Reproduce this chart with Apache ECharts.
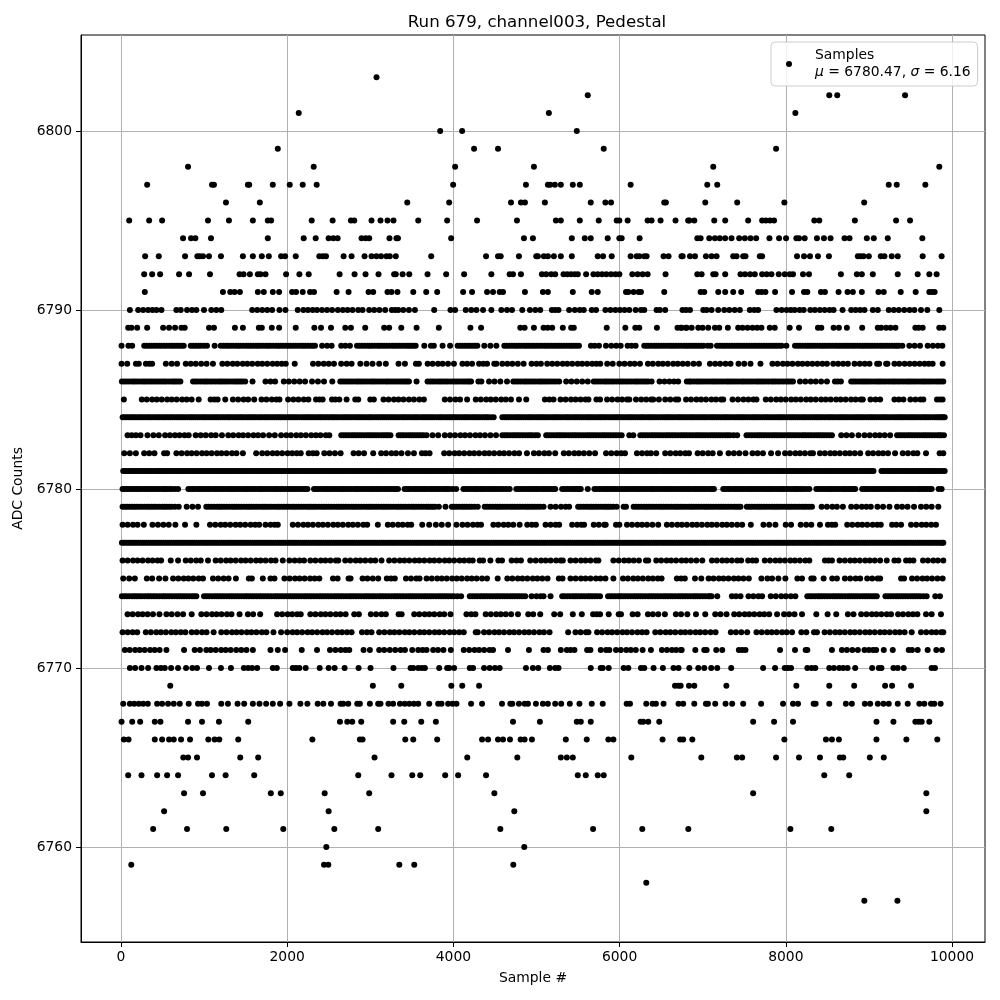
<!DOCTYPE html>
<html><head><meta charset="utf-8">
<style>html,body{margin:0;padding:0;background:#fff}#c{width:1000px;height:1000px}</style>
<script src="https://cdn.jsdelivr.net/npm/echarts@6/dist/echarts.min.js"></script>
</head><body><div id="c"></div>
<script>
const titleText="Run 679, channel003, Pedestal";
const xName="Sample #";
const yName="ADC Counts";
const xTicks=[0,2000,4000,6000,8000,10000];
const yTicks=[6760,6770,6780,6790,6800];
const a6803=[3075];
const a6802=[5617,8523,8619,9435];
const a6801=[2139,5149,8115];
const a6800=[3841,4105,5485];
const a6799=[1887,4249,4537,5809,7883];
const a6798=[807,2319,4021,4969,7127,9847];
const a6797=[315,1095,1119,1527,1543,1827,2031,2187,2355,3997,4873,5137,5165,5221,5293,5437,5521,6133,7055,7175,9239,9335,9679];
const a6796=[1263,1671,3445,3949,4693,4813,4861,5101,5653,5829,5897,6537,6557,7031,7415,7983,8943];
const a6795=[99,339,495,1047,1299,1587,1767,1807,2295,2547,2767,2807,3015,3123,3207,3279,3577,3925,4285,4765,5233,5293,5521,5749,5965,5997,6097,6337,6385,6493,6673,6825,6839,6899,7139,7271,7547,7715,7760,7810,7859,8343,8403,8831,9327,9495];
const a6794=[747,843,895,1083,1767,2199,2343,2499,2555,2607,2895,2945,2987,3231,3315,3333,3973,4849,4957,5425,5581,5653,5857,5997,6025,6241,6935,6975,7079,7147,7205,7270,7347,7439,7507,7575,7643,7803,7919,8003,8127,8159,8227,8375,8459,8539,8707,8767,8975,9059,9227,9643];
const a6793=[291,455,771,919,947,987,1059,1203,1467,1587,1695,1779,1927,1975,2103,2387,2430,2467,2679,2775,2931,3015,3075,3130,3195,3235,3307,3733,4393,4537,4569,4789,4997,5017,5089,5137,5209,5293,5425,5737,5801,5905,6133,6205,6237,6297,6325,6529,6589,6745,6759,6847,6907,7039,7107,7167,7367,7407,7487,7515,7687,7715,8135,8219,8291,8387,8519,8867,8900,8935,8999,9143,9187,9275,9347,9647,9875];
const a6792=[279,375,471,699,819,1071,1427,1475,1551,1647,1679,1739,1987,2147,2259,2631,2811,2943,3099,3287,3307,3389,3469,3689,3913,4129,4457,4677,4717,4813,5065,5117,5177,5225,5325,5370,5415,5460,5497,5597,5685,5737,5789,5841,5897,5950,5997,6153,6217,6277,6337,6553,6935,6987,7127,7155,7271,7455,7510,7570,7627,7715,7770,7827,7915,7987,8047,8087,8207,8279,8663,8855,8915,9047,9347,9587,9727,9815];
const a6791=[287,1227,1315,1367,1431,1647,1719,1827,1903,2059,2107,2187,2275,2323,2595,2739,2979,3035,3207,3255,3327,3517,3673,3805,4117,4225,4405,4477,4557,4597,4861,5077,5137,5437,5665,5737,6077,6105,6169,6229,6257,6537,6975,7019,7187,7271,7367,7463,7667,7710,7755,7871,8075,8219,8259,8423,8471,8635,8743,8807,8915,9115,9179,9383,9563,9727,9760,9791];
const a6790=[107,207,267,327,379,427,487,667,719,795,855,907,999,1087,1147,1207,1579,1640,1700,1760,1819,1907,1979,2127,2195,2250,2307,2359,2419,2480,2540,2610,2670,2727,2787,2855,2907,2987,3047,3110,3179,3259,3300,3337,3397,3465,3537,3769,3965,4021,4149,4215,4277,4357,4457,4577,4645,4705,4829,4921,4985,5045,5185,5225,5265,5393,5461,5521,5569,5665,5717,5829,5890,5950,6005,6060,6117,6193,6257,6297,6445,6485,6549,6757,6800,6847,7007,7047,7107,7187,7259,7320,7385,7447,7567,7620,7667,7887,7950,8010,8060,8107,8167,8215,8295,8350,8410,8467,8527,8575,8683,8787,8840,8895,8947,9047,9107,9239,9300,9360,9425,9490,9547,9627,9703,9847];
const a6789=[87,127,195,315,507,579,651,727,767,1059,1119,1371,1467,1659,1695,1815,1903,2103,2327,2407,2527,2699,2767,2939,3167,3227,3373,3557,3825,4205,4333,4805,4857,4969,5085,5135,5189,5317,5417,5449,5845,6069,6189,6237,6449,6697,6737,6797,6747,6807,6867,6947,6999,7067,7147,7199,7303,7427,7480,7540,7600,7655,7707,7807,7867,8047,8159,8387,8427,8575,8639,8735,8919,9107,9147,9207,9260,9319,9559,9600,9647,9847,9895];
const a6788=[7,90,135,280,340,398,462,520,583,640,700,755,840,900,960,1035,1127,1200,1262,1320,1385,1440,1505,1562,1625,1680,1745,1800,1866,1920,1985,2040,2100,2165,2220,2280,2335,2420,2480,2535,2650,2700,2755,2840,2900,2965,3020,3085,3140,3200,3265,3320,3380,3440,3490,3546,3650,3730,3765,3870,3960,4051,4110,4170,4230,4288,4372,4445,4517,4613,4670,4735,4790,4855,4910,4970,5030,5095,5150,5210,5270,5330,5395,5450,5511,5655,5700,5752,5836,5900,5960,6013,6097,6145,6193,6297,6350,6415,6470,6530,6595,6650,6710,6775,6830,6890,6950,7010,7060,7096,7172,7235,7290,7350,7410,7470,7530,7590,7650,7710,7770,7830,7890,7950,8007,8111,8170,8235,8290,8350,8415,8470,8530,8595,8650,8710,8770,8830,8895,8950,9010,9070,9135,9190,9250,9310,9360,9402,9487,9550,9615,9707,9770,9830,9884];
const b6788=[310,368,430,490,550,612,670,728,870,930,998,1230,1290,1352,1412,1472,1533,1593,1652,1712,1772,1833,1893,1952,2012,2070,2132,2192,2250,2308,2870,2932,2992,3052,3112,3170,3232,3292,3350,3410,3465,3518,4080,4140,4200,4258,4640,4702,4762,4822,4882,4940,5000,5062,5122,5180,5240,5300,5362,5422,5480,6325,6382,6442,6500,6562,6622,6680,6742,6802,6860,6920,6980,7205,7262,7320,7380,7440,7500,7560,7620,7680,7740,7800,7860,7920,8140,8202,8262,8320,8382,8442,8500,8562,8622,8680,8740,8800,8862,8922,8980,9040,9102,9162,9220,9280,9335];
const a6787=[7,75,180,215,300,340,375,540,610,675,780,840,900,965,1030,1107,1220,1280,1345,1400,1465,1520,1580,1645,1700,1760,1825,1880,1935,1983,2091,2311,2375,2440,2500,2563,2650,2715,2775,2880,2955,3027,3107,3187,3340,3417,3549,3585,3690,3750,3815,3870,3935,4007,4109,4165,4225,4309,4360,4405,4492,4517,4589,4650,4710,4775,4845,4941,5000,5053,5129,5190,5250,5315,5370,5430,5495,5550,5610,5670,5720,5767,5851,5917,5997,6060,6125,6180,6245,6341,6400,6465,6520,6580,6645,6700,6760,6820,6890,6955,7087,7150,7210,7275,7335,7431,7500,7575,7695,7839,7900,7965,8020,8080,8145,8200,8260,8320,8380,8440,8495,8571,8630,8690,8747,8827,8890,8950,9007,9099,9123,9207,9223,9307,9365,9430,9490,9550,9610,9670,9720,9767,9887];
const a6786=[11,70,135,190,255,310,370,430,490,545,610,660,715,867,925,990,1045,1105,1170,1225,1285,1350,1405,1460,1495,1583,1739,1800,1855,1959,2020,2085,2150,2215,2299,2370,2443,2543,2639,2700,2760,2825,2880,2940,3005,3060,3120,3185,3240,3300,3360,3415,3465,3557,3689,3750,3815,3870,3930,3995,4050,4110,4165,4213,4301,4337,4429,4495,4565,4645,4721,4780,4845,4900,4960,5025,5080,5140,5205,5273,5357,5420,5485,5550,5617,5689,5750,5815,5870,5930,5995,6050,6110,6175,6230,6290,6345,6385,6481,6540,6600,6655,6705,6809,6860,6925,6980,7040,7105,7160,7220,7285,7340,7400,7465,7520,7580,7645,7700,7760,7825,7880,7940,8005,8060,8087,8171,8235,8300,8360,8425,8495,8591,8625,8663,8787,8845,8910,8965,9025,9090,9145,9205,9270,9325,9385,9450,9505,9565,9630,9685,9745,9810,9865,9895];
const b6786=[40,102,162,222,282,340,400,460,518,578,635,688,896,958,1018,1075,1138,1198,1255,1318,1378,1432,2670,2730,2792,2852,2910,2972,3032,3090,3152,3212,3270,3330,3388,3440,3720,3782,3842,3900,3962,4022,4080,4138,4190,4750,4812,4872,4930,4992,5052,5110,5172,5238,5718,5782,5842,5900,5962,6022,6080,6142,6202,6260,6318,6838,6892,6952,7010,7072,7132,7190,7252,7312,7370,7432,7492,7550,7612,7672,7730,7792,7852,7910,7972,8032,8816,8878,8938,8995,9058,9118,9175,9238,9298,9355,9418,9478,9535,9598,9658,9715,9778,9838];
const a6785=[35,251,310,375,430,490,555,610,670,735,790,850,935,1079,1125,1163,1255,1347,1410,1475,1530,1603,1691,1750,1815,1870,1907,2011,2075,2135,2200,2255,2347,2390,2427,2539,2580,2627,2715,2819,2855,3000,3043,3159,3220,3285,3340,3400,3465,3525,3590,3645,3897,3960,4025,4080,4165,4269,4330,4395,4450,4510,4575,4630,4693,4789,4877,5101,5155,5205,5289,5350,5415,5470,5530,5590,5625,5721,5765,5849,5910,5975,6030,6090,6117,6197,6260,6320,6380,6405,6473,6549,6610,6675,6705,6800,6860,6925,6980,7040,7105,7160,7220,7247,7359,7425,7490,7550,7610,7647,7759,7820,7885,7940,8000,8065,8120,8180,8245,8300,8360,8425,8480,8540,8605,8660,8720,8785,8840,8900,8927,9019,9080,9135,9307,9360,9415,9499,9560,9620,9655,9819,9855,9887];
const a6784=[20,68,120,165,218,265,318,365,420,468,520,570,618,672,720,770,825,870,922,975,1020,1072,1125,1170,1222,1275,1320,1375,1425,1470,1525,1572,1620,1675,1725,1770,1822,1875,1920,1970,2025,2072,2120,2175,2225,2270,2322,2375,2420,2472,2525,2570,2620,2675,2720,2772,2825,2870,2920,2975,3020,3075,3125,3170,3222,3270,3320,3375,3420,3472,3525,3570,3625,3672,3720,3770,3825,3870,3925,3975,4020,4072,4125,4170,4225,4270,4320,4375,4420,4485,4589,4640,4690,4745,4790,4840,4895,4940,4995,5045,5090,5140,5195,5240,5290,5345,5390,5445,5490,5540,5595,5640,5690,5745,5790,5840,5895,5945,5990,6040,6095,6140,6190,6245,6290,6345,6390,6440,6495,6545,6590,6640,6695,6740,6790,6845,6890,6945,6995,7040,7095,7140,7190,7245,7290,7340,7395,7445,7490,7540,7595,7640,7690,7745,7790,7845,7895,7940,7990,8045,8090,8140,8195,8240,8295,8345,8390,8440,8495,8540,8590,8645,8690,8740,8795,8845,8890,8940,8995,9040,9090,9145,9190,9240,9295,9345,9390,9440,9495,9540,9590,9645,9690,9740,9795,9840,9880,9912];
const b6784=[45,95,142,190,240,290,340,392,445,495,545,595,645,695,745,798,848,896,948,998,1046,1098,1148,1196,1248,1298,1348,1400,1448,1498,1548,1596,1648,1698,1748,1796,1848,1898,1945,1998,2048,2096,2148,2200,2248,2296,2348,2398,2446,2498,2548,2595,2648,2698,2746,2798,2848,2895,2948,2998,3048,3100,3148,3196,3246,3295,3348,3398,3446,3498,3548,3598,3648,3696,3745,3798,3848,3898,3950,3998,4046,4098,4148,4198,4248,4295,4348,4398,4452,4615,4665,4718,4768,4815,4868,4918,4968,5020,5068,5115,5168,5218,5265,5318,5368,5418,5468,5515,5568,5618,5665,5718,5768,5815,5868,5920,5968,6015,6068,6118,6165,6218,6268,6318,6368,6415,6468,6520,6568,6615,6668,6718,6765,6818,6868,6918,6970,7018,7068,7118,7165,7218,7268,7315,7368,7420,7468,7515,7568,7618,7665,7718,7768,7818,7870,7918,7965,8018,8068,8115,8168,8218,8268,8320,8368,8415,8468,8518,8565,8618,8668,8715,8768,8820,8868,8915,8968,9018,9065,9118,9168,9215,9268,9320,9368,9415,9468,9518,9565,9618,9668,9715,9768,9818,9860,9896];
const a6783=[79,130,180,235,319,390,455,531,590,650,705,765,815,899,960,1020,1085,1140,1215,1291,1350,1415,1470,1530,1595,1650,1710,1783,1851,1927,1990,2045,2110,2165,2225,2290,2345,2400,2465,2507,2651,2710,2775,2830,2890,2955,3010,3070,3135,3190,3243,3341,3400,3465,3520,3580,3640,3677,3749,3817,3897,3960,4020,4085,4140,4200,4265,4320,4380,4445,4513,4589,4650,4715,4770,4830,4895,4950,5017,5117,5175,5240,5295,5355,5420,5475,5535,5600,5655,5715,5780,5835,5895,5960,6025,6117,6165,6249,6310,6375,6430,6490,6555,6610,6670,6735,6790,6850,6915,6970,7030,7095,7150,7210,7275,7330,7415,7527,7590,7655,7710,7770,7835,7890,7950,8015,8070,8130,8195,8250,8310,8375,8430,8490,8555,8667,8730,8795,8875,8947,9010,9075,9130,9190,9255,9339,9400,9465,9520,9580,9645,9700,9760,9825,9870,9903];
const b6783=[2680,2742,2802,2860,2922,2982,3040,3102,3162,3215,3370,3432,3492,3550,3610,4620,4682,4742,4800,4862,4922,4985,5146,5208,5268,5325,5388,5448,5505,5568,5628,5685,5748,5808,5865,5928,5992,6280,6342,6402,6460,6522,6582,6640,6702,6762,6820,6882,6942,7000,7062,7122,7180,7242,7302,7372,7558,7622,7682,7740,7802,7862,7920,7982,8042,8100,8162,8222,8280,8342,8402,8460,8522,9370,9432,9492,9550,9612,9672,9730,9792,9848];
const a6782=[39,107,179,279,340,403,519,555,667,730,795,850,910,975,1030,1090,1155,1210,1270,1335,1390,1467,1627,1699,1760,1825,1880,1940,2005,2060,2115,2163,2259,2310,2355,2447,2510,2575,2643,2799,2860,2925,3035,3131,3190,3255,3310,3375,3453,3525,3621,3665,3713,3889,3950,4015,4070,4130,4195,4250,4310,4375,4430,4490,4555,4610,4670,4735,4790,4885,4969,5030,5095,5150,5225,5329,5390,5455,5510,5570,5635,5705,5837,5900,5965,6020,6065,6209,6270,6330,6377,6441,6549,6610,6675,6730,6790,6835,6939,7000,7065,7120,7207,7311,7375,7440,7515,7599,7660,7725,7823,7907,7991,8050,8115,8170,8230,8295,8327,8411,8470,8535,8590,8650,8715,8770,8830,8895,8991,9050,9115,9170,9230,9315,9407,9470,9535,9583,9687,9851,9895];
const a6781=[27,75,125,172,222,275,322,370,425,472,525,572,620,675,725,770,822,875,920,972,1025,1072,1125,1172,1220,1275,1322,1370,1425,1472,1520,1575,1625,1670,1722,1775,1820,1872,1925,1970,2025,2072,2120,2175,2222,2270,2325,2372,2420,2475,2522,2570,2625,2672,2720,2775,2822,2870,2925,2972,3020,3075,3122,3170,3225,3272,3320,3375,3422,3470,3525,3572,3620,3675,3722,3770,3825,3872,3920,3975,4022,4070,4125,4172,4220,4275,4322,4370,4425,4472,4520,4575,4622,4670,4725,4772,4820,4875,4922,4970,5025,5072,5120,5175,5222,5270,5325,5372,5420,5475,5522,5570,5625,5672,5720,5775,5822,5870,5925,5972,6020,6075,6122,6170,6225,6272,6320,6375,6422,6470,6525,6572,6620,6675,6722,6770,6825,6872,6920,6975,7022,7070,7125,7172,7220,7275,7322,7370,7425,7472,7520,7575,7622,7670,7725,7772,7820,7875,7922,7970,8025,8072,8120,8175,8222,8270,8325,8372,8420,8475,8522,8570,8625,8672,8720,8775,8822,8870,8925,8972,9020,9055,9151,9200,9255,9300,9350,9405,9450,9500,9555,9600,9650,9705,9750,9800,9855,9912];
const b6781=[50,100,148,198,248,298,346,398,448,498,548,596,648,698,748,796,848,898,946,998,1048,1098,1148,1196,1248,1298,1346,1398,1448,1496,1548,1600,1648,1696,1748,1798,1846,1898,1948,1998,2048,2096,2148,2198,2246,2298,2348,2396,2448,2498,2546,2598,2648,2696,2748,2798,2846,2898,2948,2996,3048,3098,3146,3198,3248,3296,3348,3398,3446,3498,3548,3596,3648,3698,3746,3798,3848,3896,3948,3998,4046,4098,4148,4196,4248,4298,4346,4398,4448,4496,4548,4598,4646,4698,4748,4796,4848,4898,4946,4998,5048,5096,5148,5198,5246,5298,5348,5396,5448,5498,5546,5598,5648,5696,5748,5798,5846,5898,5948,5996,6048,6098,6146,6198,6248,6296,6348,6398,6446,6498,6548,6596,6648,6698,6746,6798,6848,6896,6948,6998,7046,7098,7148,7196,7248,7298,7346,7398,7448,7496,7548,7598,7646,7698,7748,7796,7848,7898,7946,7998,8048,8096,8148,8198,8246,8298,8348,8396,8448,8498,8546,8598,8648,8696,8748,8798,8846,8898,8948,8996,9038,9175,9228,9278,9325,9378,9428,9475,9528,9578,9625,9678,9728,9775,9828,9885];
const a6780=[19,75,135,190,250,315,370,430,495,550,610,687,811,870,935,990,1050,1115,1170,1230,1295,1350,1410,1475,1530,1590,1655,1710,1770,1835,1890,1950,2015,2070,2130,2195,2243,2323,2380,2445,2500,2560,2625,2680,2740,2805,2860,2920,2985,3040,3100,3165,3220,3280,3333,3413,3470,3535,3590,3650,3715,3770,3830,3895,3950,4033,4121,4180,4245,4300,4360,4425,4480,4540,4605,4677,4757,4820,4885,4940,5000,5065,5120,5180,5225,5309,5370,5435,5490,5533,5617,5697,5760,5825,5880,5940,6005,6060,6120,6185,6240,6300,6365,6420,6480,6545,6600,6660,6725,6780,6840,6905,6960,7020,7085,7135,7247,7310,7375,7430,7490,7555,7610,7670,7735,7790,7850,7915,7970,8030,8095,8150,8210,8283,8367,8430,8495,8550,8610,8675,8730,8785,8835,8919,8980,9045,9100,9160,9225,9280,9340,9405,9460,9520,9585,9640,9700,9755,9839,9875];
const b6780=[48,105,162,220,282,342,400,462,522,580,648,840,902,962,1020,1082,1142,1200,1262,1322,1380,1442,1502,1560,1622,1682,1740,1802,1862,1920,1982,2042,2100,2162,2220,2350,2412,2472,2530,2592,2652,2710,2772,2832,2890,2952,3012,3070,3132,3192,3250,3306,3442,3502,3562,3620,3682,3742,3800,3862,3922,3990,4150,4212,4272,4330,4392,4452,4510,4572,4640,4788,4852,4912,4970,5032,5092,5150,5202,5340,5402,5462,5512,5728,5792,5852,5910,5972,6032,6090,6152,6212,6270,6332,6392,6450,6512,6572,6630,6692,6752,6810,6872,6932,6990,7052,7110,7278,7342,7402,7460,7522,7582,7640,7702,7762,7820,7882,7942,8000,8062,8122,8180,8246,8398,8462,8522,8580,8642,8702,8758,8810,8950,9012,9072,9130,9192,9252,9310,9372,9432,9490,9552,9612,9670,9728];
const a6779=[19,75,135,190,250,315,370,430,495,550,610,695,791,860,927,1027,1090,1155,1210,1270,1335,1390,1450,1515,1570,1630,1695,1750,1810,1875,1930,1990,2055,2110,2170,2235,2290,2350,2415,2470,2530,2595,2650,2710,2775,2830,2890,2955,3010,3070,3135,3190,3250,3315,3370,3430,3495,3550,3610,3675,3730,3780,3825,3905,3981,4040,4105,4160,4220,4293,4377,4440,4505,4560,4620,4685,4740,4800,4865,4920,4980,5045,5085,5169,5230,5295,5350,5393,5501,5565,5630,5685,5745,5810,5865,5925,5965,6049,6077,6169,6230,6295,6350,6410,6475,6530,6590,6655,6710,6770,6835,6890,6950,7015,7070,7130,7195,7250,7310,7375,7430,7455,7531,7590,7655,7710,7770,7835,7890,7950,8015,8070,8130,8195,8250,8315,8431,8495,8560,8615,8687,8787,8850,8915,8970,9023,9103,9170,9247,9339,9400,9465,9543,9627,9690,9755,9835];
const b6779=[48,105,162,220,282,342,400,462,522,580,650,1058,1122,1182,1240,1302,1362,1420,1482,1542,1600,1662,1722,1780,1842,1902,1960,2022,2082,2140,2202,2262,2320,2382,2442,2500,2562,2622,2680,2742,2802,2860,2922,2982,3040,3102,3162,3220,3282,3342,3400,3462,3522,3580,3642,3702,3755,4010,4072,4132,4190,4255,4408,4472,4532,4590,4652,4712,4770,4832,4892,4950,5012,5530,5598,5658,5715,5778,5838,5895,6200,6262,6322,6380,6442,6502,6560,6622,6682,6740,6802,6862,6920,6982,7042,7100,7162,7222,7280,7342,7402,7560,7622,7682,7740,7802,7862,7920,7982,8042,8100,8162,8222,8282];
const a6778=[19,80,145,200,275,379,445,510,575,655,771,907,1071,1135,1200,1255,1315,1380,1435,1495,1560,1615,1663,1739,1800,1850,1887,2067,2130,2195,2250,2310,2375,2430,2490,2555,2610,2670,2735,2790,2850,2915,2963,3091,3211,3270,3335,3390,3450,3493,3625,3709,3789,3860,3937,4037,4109,4170,4235,4290,4333,4481,4540,4605,4660,4720,4797,4889,4945,4993,5109,5170,5230,5273,5429,5490,5540,5573,5689,5750,5815,5833,5957,5997,6089,6150,6215,6270,6330,6395,6465,6569,6630,6695,6750,6810,6875,6930,6990,7055,7110,7170,7235,7290,7350,7415,7475,7579,7731,7800,7875,7999,8063,8179,8245,8307,8411,8507,8555,8595,8739,8800,8865,8920,8980,9045,9100,9143,9279,9330,9387,9507,9570,9635,9690,9750,9807];
const a6777=[11,60,110,158,210,260,308,360,410,458,510,560,608,660,710,758,810,860,908,960,1010,1058,1110,1160,1208,1260,1310,1358,1410,1460,1508,1560,1610,1658,1710,1760,1808,1860,1910,1958,2010,2060,2108,2160,2210,2258,2310,2360,2408,2460,2510,2558,2610,2660,2708,2760,2810,2858,2910,2960,3008,3060,3110,3158,3210,3260,3308,3360,3410,3458,3510,3560,3608,3660,3710,3758,3810,3860,3908,3960,4010,4058,4110,4160,4208,4260,4310,4358,4410,4460,4508,4560,4610,4658,4710,4760,4808,4860,4910,4958,5010,5060,5108,5160,5210,5258,5310,5360,5408,5460,5510,5558,5610,5660,5708,5760,5810,5858,5910,5960,6008,6060,6110,6158,6210,6260,6308,6360,6410,6458,6510,6560,6608,6660,6710,6758,6810,6860,6908,6960,7010,7058,7110,7160,7208,7260,7310,7358,7410,7460,7508,7560,7610,7658,7710,7760,7808,7860,7910,7958,8010,8060,8108,8160,8210,8258,8310,8360,8408,8460,8510,8558,8610,8660,8708,8760,8810,8858,8910,8960,9008,9060,9110,9158,9210,9260,9308,9360,9410,9458,9510,9560,9608,9660,9710,9758,9810,9860,9895];
const b6777=[35,85,134,184,235,284,334,385,434,484,535,584,634,685,734,784,835,884,934,985,1034,1084,1135,1184,1234,1285,1334,1384,1435,1484,1534,1585,1634,1684,1735,1784,1834,1885,1934,1984,2035,2084,2134,2185,2234,2284,2335,2384,2434,2485,2534,2584,2635,2684,2734,2785,2834,2884,2935,2984,3034,3085,3134,3184,3235,3284,3334,3385,3434,3484,3535,3584,3634,3685,3734,3784,3835,3884,3934,3985,4034,4084,4135,4184,4234,4285,4334,4384,4435,4484,4534,4585,4634,4684,4735,4784,4834,4885,4934,4984,5035,5084,5134,5185,5234,5284,5335,5384,5434,5485,5534,5584,5635,5684,5734,5785,5834,5884,5935,5984,6034,6085,6134,6184,6235,6284,6334,6385,6434,6484,6535,6584,6634,6685,6734,6784,6835,6884,6934,6985,7034,7084,7135,7184,7234,7285,7334,7384,7435,7484,7534,7585,7634,7684,7735,7784,7834,7885,7934,7984,8035,8084,8134,8185,8234,8284,8335,8384,8434,8485,8534,8584,8635,8684,8734,8785,8834,8884,8935,8984,9034,9085,9134,9184,9235,9284,9334,9385,9434,9484,9535,9584,9634,9685,9734,9784,9835,9880];
const a6776=[19,80,145,200,260,325,380,440,483,599,687,779,840,905,960,1047,1139,1200,1265,1320,1380,1445,1500,1560,1625,1680,1740,1805,1860,1947,2027,2090,2150,2203,2279,2340,2405,2460,2520,2585,2615,2699,2760,2825,2880,2940,3005,3060,3135,3227,3290,3355,3410,3470,3535,3590,3650,3715,3770,3830,3895,3950,4010,4075,4130,4190,4233,4317,4357,4445,4541,4585,4701,4760,4813,4925,4990,5055,5110,5170,5235,5290,5317,5409,5470,5535,5590,5650,5715,5745,5925,5990,6055,6110,6170,6233,6317,6345,6441,6500,6565,6620,6680,6745,6800,6860,6925,6995,7111,7170,7235,7290,7350,7415,7463,7547,7600,7643,7747,7810,7875,7930,7990,8055,8110,8170,8235,8283,8471,8515,8555,8647,8710,8775,8830,8890,8955,9010,9070,9135,9215,9307,9355,9447,9490,9535,9651,9710,9775,9830,9895];
const a6775=[27,99,167,311,375,459,535,627,690,755,810,870,935,987,1107,1170,1235,1295,1383,1539,1575,1707,1799,1847,1967,2030,2095,2150,2210,2275,2330,2387,2551,2607,2739,2763,2907,2965,3030,3095,3199,3250,3295,3429,3490,3555,3593,3677,3740,3805,3860,3920,3985,4040,4100,4165,4220,4280,4345,4405,4533,4649,4710,4775,4830,4890,4955,5010,5070,5133,5269,5313,5409,5470,5535,5590,5650,5715,5770,5830,5925,6041,6100,6165,6220,6280,6345,6400,6460,6505,6689,6740,6785,6907,6983,7071,7130,7195,7250,7310,7375,7430,7490,7555,7707,7779,7835,7911,7995,8139,8195,8307,8335,8455,8559,8615,8711,8775,8840,8895,8979,9040,9105,9135,9387,9423,9519,9580,9645,9700,9760,9825,9887];
const a6774=[11,70,135,190,250,315,370,430,495,550,610,675,730,790,855,907,999,1060,1125,1180,1240,1305,1360,1420,1485,1540,1600,1665,1720,1780,1845,1900,1960,2025,2080,2140,2205,2260,2320,2385,2440,2500,2565,2620,2680,2745,2800,2860,2925,2980,3040,3105,3160,3220,3285,3340,3400,3465,3520,3580,3645,3700,3760,3825,3880,3940,4005,4093,4197,4260,4325,4380,4440,4505,4560,4620,4685,4740,4800,4865,4941,5000,5050,5085,5169,5309,5370,5435,5490,5550,5615,5670,5730,5765,5861,5920,5985,6040,6100,6165,6220,6280,6345,6400,6460,6525,6580,6640,6705,6760,6820,6885,6940,7000,7065,7107,7175,7351,7400,7455,7551,7610,7670,7715,7819,7880,7945,8000,8060,8115,8259,8320,8385,8440,8500,8565,8620,8680,8745,8800,8860,8925,8980,9040,9095,9199,9260,9325,9380,9440,9505,9560,9620,9695,9799,9855];
const b6774=[40,102,162,220,282,342,400,462,522,580,642,702,760,822,880,1030,1092,1152,1210,1272,1332,1390,1452,1512,1570,1632,1692,1750,1812,1872,1930,1992,2052,2110,2172,2232,2290,2352,2412,2470,2532,2592,2650,2712,2772,2830,2892,2952,3010,3072,3132,3190,3252,3312,3370,3432,3492,3550,3612,3672,3730,3792,3852,3910,3972,4048,4228,4292,4352,4410,4472,4532,4590,4652,4712,4770,4832,5338,5402,5462,5520,5582,5642,5700,5890,5952,6012,6070,6132,6192,6250,6312,6372,6430,6492,6552,6610,6672,6732,6790,6852,6912,6970,7032,7085,8290,8352,8412,8470,8532,8592,8650,8712,8772,8830,8892,8952,9010,9068,9230,9292,9352,9410,9472,9532,9590,9658];
const a6773=[79,140,205,260,320,385,463,547,610,680,747,851,967,1030,1095,1150,1210,1275,1330,1427,1527,1590,1675,1879,1940,2005,2060,2120,2163,2279,2340,2405,2460,2520,2585,2640,2703,2807,2863,3007,3070,3135,3187,3341,3377,3529,3590,3655,3710,3770,3835,3890,3965,4157,4215,4265,4389,4450,4515,4570,4630,4695,4777,4901,4960,5045,5213,5285,5437,5545,5681,5725,5765,5869,5989,6017,6157,6217,6341,6400,6465,6545,6677,6740,6815,6919,7031,7151,7215,7287,7379,7440,7505,7560,7620,7685,7740,7800,7895,7979,8040,8105,8195,8367,8503,8607,8747,8815,8907,8970,9035,9090,9150,9215,9267,9351,9410,9475,9530,9583,9687,9755,9867];
const a6772=[19,80,140,195,299,360,425,480,540,605,660,720,775,851,910,975,1030,1115,1207,1270,1335,1390,1450,1515,1570,1630,1695,1750,1835,1927,2000,2065,2120,2180,2245,2300,2360,2425,2480,2540,2605,2660,2720,2775,2900,2960,3015,3107,3170,3235,3290,3350,3415,3470,3530,3595,3650,3710,3775,3830,3890,3955,4010,4070,4125,4269,4293,4369,4430,4495,4550,4610,4675,4730,4790,4855,4910,4970,5035,5090,5157,5381,5469,5530,5595,5625,5729,5790,5855,5910,5970,6035,6090,6150,6215,6270,6325,6429,6490,6555,6610,6670,6735,6790,6850,6915,6970,7030,7095,7155,7339,7400,7465,7535,7647,7710,7775,7830,7890,7955,8010,8075,8187,8247,8339,8375,8467,8530,8595,8650,8710,8775,8830,8890,8955,9010,9070,9135,9190,9250,9315,9370,9430,9515,9627,9690,9755,9810,9870,9895];
const a6771=[47,105,170,225,285,350,405,465,547,759,887,950,1027,1079,1140,1205,1260,1320,1387,1447,1510,1587,1799,1887,1975,2175,2359,2515,2580,2645,2700,2747,2919,2995,3107,3167,3235,3300,3365,3417,3505,3577,3630,3677,3757,3815,3880,3969,4125,4190,4255,4310,4370,4435,4477,4657,4909,5085,5137,5293,5365,5410,5457,5609,5649,5773,5837,5877,5957,6015,6080,6135,6195,6277,6377,6509,6570,6630,6680,6737,6747,6911,7019,7047,7163,7235,7435,7475,7515,7931,8111,8239,8259,8555,8675,8735,8800,8867,8947,9000,9050,9087,9179,9287,9479,9519,9587,9707,9811,9879];
const a6770=[107,170,247,327,427,480,527,603,687,783,859,915,1059,1203,1323,1479,1530,1579,1639,1827,1875,2067,2105,2147,2223,2391,2499,2571,2691,2859,3003,3279,3485,3517,3577,3620,3657,3829,3925,3949,4009,4197,4237,4369,4437,4500,4557,4873,4957,5021,5161,5225,5265,5653,5773,5797,5869,6049,6105,6257,6297,6409,6521,6649,6709,6839,6947,7019,7103,7175,7343,7727,7871,7987,8025,8063,8259,8311,8355,8523,8579,8643,8691,8743,8835,9039,9119,9151,9295,9347,9419,9755,9795];
const a6769=[593,3031,3373,3975,4107,4309,6667,6707,6735,6835,6899,7285,8127,8523,8823,9195,9279,9507];
const a6768=[27,107,160,215,267,323,435,495,567,635,707,815,927,975,1035,1207,1287,1403,1483,1587,1667,1747,1827,1915,2027,2159,2243,2367,2435,2527,2643,2675,2735,2843,2875,2995,3095,3123,3219,3275,3357,3415,3470,3525,3577,3709,3817,3857,3937,3990,4037,4213,4345,4585,4685,4709,4789,4857,4897,4993,5077,5137,5225,5297,5401,5517,5665,5797,6085,6125,6321,6397,6437,6529,6709,6765,6899,7039,7063,7151,7275,7355,7487,7703,7967,8087,8147,8335,8359,8523,8723,8795,8951,9015,9107,9175,9239,9347,9467,9607,9667,9747,9787,9863];
const a6767=[7,135,231,407,475,807,975,1179,1531,2635,2723,2783,2891,3275,3409,3613,3789,4717,5041,5485,5533,5653,6253,6285,6345,6477,7607,7859,8087,9091,9295,9559,9600,9635,9727];
const a6766=[35,91,407,495,579,635,723,831,1051,1127,1183,1411,2303,2875,2907,3421,3517,3805,4345,4417,4537,4597,4681,4809,4857,4945,5353,5605,5865,5925,6517,6729,6765,6875,7983,8483,8555,8639,9091,9451,9823];
const a6765=[750,807,915,1435,1651,3051,4167,4769,5293,5365,5437,6141,6983,7411,7475,7883,8159,8411,8651,8691,9011,9179];
const a6764=[87,247,435,555,687,1095,1259,1603,2855,3255,3505,3601,3901,4057,4393,5497,5593,5737,5809,8463,8763];
const a6763=[759,987,1803,1923,2451,2987,4493,7607,9691];
const a6762=[519,2499,4733,9691];
const a6761=[387,795,1267,1953,2567,3095,4565,5681,6273,6827,8055,8547];
const a6760=[2471,4853];
const a6759=[124,2443,2495,3349,3529,4721];
const a6758=[6321];
const a6757=[8945,9343];
const rows=[[6803,a6803],[6802,a6802],[6801,a6801],[6800,a6800],[6799,a6799],[6798,a6798],[6797,a6797],[6796,a6796],[6795,a6795],[6794,a6794],[6793,a6793],[6792,a6792],[6791,a6791],[6790,a6790],[6789,a6789],[6788,a6788],[6788,b6788],[6787,a6787],[6786,a6786],[6786,b6786],[6785,a6785],[6784,a6784],[6784,b6784],[6783,a6783],[6783,b6783],[6782,a6782],[6781,a6781],[6781,b6781],[6780,a6780],[6780,b6780],[6779,a6779],[6779,b6779],[6778,a6778],[6777,a6777],[6777,b6777],[6776,a6776],[6775,a6775],[6774,a6774],[6774,b6774],[6773,a6773],[6772,a6772],[6771,a6771],[6770,a6770],[6769,a6769],[6768,a6768],[6767,a6767],[6766,a6766],[6765,a6765],[6764,a6764],[6763,a6763],[6762,a6762],[6761,a6761],[6760,a6760],[6759,a6759],[6758,a6758],[6757,a6757]];
const points=[];
rows.forEach(function(r){r[1].forEach(function(x){points.push([x,r[0]]);});});
const F="DejaVu Sans";
const chart=echarts.init(document.getElementById('c'),null,{renderer:'canvas'});
chart.setOption({
 animation:false,
 backgroundColor:'#fff',
 title:{text:titleText,left:532,top:9,textAlign:'center',textStyle:{fontFamily:F,fontSize:16.67,fontWeight:'normal',color:'#000'}},
 grid:{left:81,right:15,top:35,bottom:58,show:true,borderColor:'#000',borderWidth:1,backgroundColor:'transparent'},
 xAxis:{type:'value',min:-481,max:10397,name:xName,nameLocation:'middle',nameGap:29,nameTextStyle:{fontFamily:F,fontSize:13.89,color:'#000'},
  axisLine:{show:true,onZero:false,lineStyle:{color:'#000',width:1}},
  axisTick:{show:true,length:5,customValues:xTicks,lineStyle:{color:'#000',width:1}},
  axisLabel:{customValues:xTicks,formatter:function(v){return String(v);},fontFamily:F,fontSize:13.89,color:'#000',margin:8},
  splitLine:{show:true,lineStyle:{color:'#b0b0b0',width:1}}},
 yAxis:{type:'value',min:6754.69,max:6805.36,name:yName,nameLocation:'middle',nameGap:49,nameTextStyle:{fontFamily:F,fontSize:13.89,color:'#000'},
  axisLine:{show:true,onZero:false,lineStyle:{color:'#000',width:1}},
  axisTick:{show:true,length:5,customValues:yTicks,lineStyle:{color:'#000',width:1}},
  axisLabel:{customValues:yTicks,formatter:function(v){return String(v);},fontFamily:F,fontSize:13.89,color:'#000',margin:9},
  splitLine:{show:true,lineStyle:{color:'#b0b0b0',width:1}}},
 legend:{show:true,left:771,top:42,orient:'vertical',padding:[5,7,5,15],backgroundColor:'rgba(255,255,255,0.8)',borderColor:'#ccc',borderWidth:1,borderRadius:4,
  icon:'circle',itemWidth:6,itemHeight:6,
  formatter:function(){return 'Samples\n{i|\u03bc} = 6780.47, {i|\u03c3} = 6.16';},
  textStyle:{fontFamily:F,fontSize:13.89,color:'#000',lineHeight:17,padding:[0,0,0,18],rich:{i:{fontFamily:F,fontStyle:'italic',fontSize:13.89,color:'#000'}}}},
 series:[{name:'Samples',type:'scatter',symbol:'circle',symbolSize:6,data:points,large:false,itemStyle:{color:'#000',opacity:1},z:3}]
});
</script></body></html>
